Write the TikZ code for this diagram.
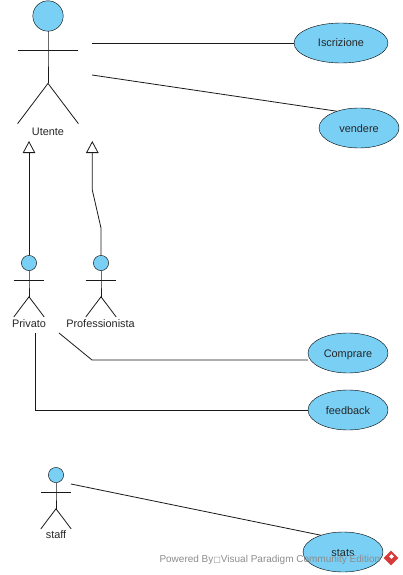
\documentclass[tikz,border=0pt]{standalone}
\usepackage{xcolor}
\usepackage{fontspec}
\setmainfont{Liberation Sans}
\usepackage{tikz}
\usetikzlibrary{shapes.geometric, arrows.meta}
\usetikzlibrary{positioning}
\definecolor{vpblue}{RGB}{122,207,245}
\definecolor{vpgray}{RGB}{140,140,140}
\definecolor{vpred}{RGB}{214,58,58}
\tikzstyle{usecase} = [ellipse, minimum width=80pt, minimum height=40pt, inner sep=0pt, text height=8pt, text depth=0pt, draw=black, fill=vpblue, text=black!85]
\tikzstyle{head} = [circle, inner sep=0pt, draw=black, fill=vpblue]
\tikzstyle{actorname} = [inner sep=0pt, text height=8pt, text depth=0pt, text=black!85]
\tikzstyle{link} = [line width=0.8pt, black!90]
\tikzstyle{inherit} = [line width=0.8pt, black!90, {Triangle[open, fill=white, length=12pt, width=12.5pt]}-]
% name, x of the body, y of the head centre, head radius
\newcommand{\actorfig}[4]{
\node (#1) [head, minimum size=#4*2pt] at (#2,#3) {};
\draw [link] (#1.south) -- ++(0,#4*1.25) coordinate (#1neck) -- ++(0,#4*2.17) coordinate (#1hip);
\draw [link] ([shift={(-#4*2,0)}]#1neck) -- ([shift={(#4*2,0)}]#1neck);
\draw [link] ([shift={(-#4*2,#4*2.65)}]#1hip) -- (#1hip) -- ([shift={(#4*2,#4*2.65)}]#1hip);
}
\begin{document}
\begin{tikzpicture}[x=1pt, y=-1pt, every node/.style={font=\fontsize{10.9pt}{12pt}\selectfont}]
\useasboundingbox (0,0) rectangle (403,575);
\actorfig{utente}{48}{16}{15.2}
\actorfig{privato}{29}{263}{7.6}
\actorfig{prof}{101}{263}{7.6}
\actorfig{staff}{56}{475}{7.6}
\node (utentelabel) [actorname] at (48,131.7) {Utente};
\node (privatolabel) [actorname] at (29,323.7) {Privato};
\node (proflabel) [actorname] at (100.5,323.7) {Professionista};
\node (stafflabel) [actorname] at (56,534.7) {staff};

\node (iscrizione) [usecase, minimum width=94pt] at (341,43) {Iscrizione};
\node (vendere) [usecase] at (359,128) {vendere};
\node (comprare) [usecase] at (348,353) {Comprare};
\node (feedback) [usecase] at (348,410) {feedback};
\node (stats) [usecase] at (343,552) {stats};

\coordinate (utenteA) at (92,43);
\coordinate (utenteB) at (92,75);
\coordinate (privatoA) at (59,333);
\coordinate (privatoB) at (35.5,333);
\coordinate (staffA) at (71,484);
\coordinate (tipA) at (29,141);
\coordinate (tipB) at (92.3,141);

\draw [link] (utenteA) -- (iscrizione);
\draw [link] (utenteB) -- (vendere.143);
\draw [link] (privatoA) -- (92,360) -- (comprare.west |- 92,360);
\draw [link] (privatoB) |- (feedback);
\draw [link] (staffA) -- (stats.143);
\draw [inherit] (tipA) -- (privato);
\draw [inherit] (tipB) -- (92.3,190) -- (101,228) -- (prof);

\node (watermark) [anchor=base west, inner sep=0pt, text=vpgray, font=\fontsize{10pt}{12pt}\selectfont] at (159.3,562) {Powered By{\fontspec{DejaVu Sans}\fontsize{8pt}{12pt}\selectfont □}Visual Paradigm Community Edition};
\node (logo) [diamond, minimum size=15pt, inner sep=0pt, fill=vpred] at (391,558) {};
\node (logoin) [diamond, minimum size=5pt, inner sep=0pt, fill=white] at (391.5,556.5) {};
\end{tikzpicture}
\end{document}
